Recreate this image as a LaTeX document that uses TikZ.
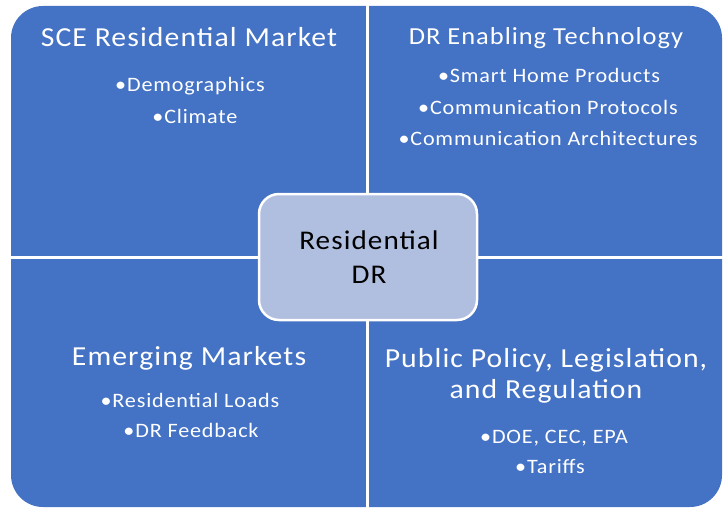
\documentclass[tikz,border=0pt]{standalone}
\usepackage{fontspec}
\setmainfont{Carlito}[FakeStretch=1.08,LetterSpace=4]
\begin{document}
\begin{tikzpicture}[x=1pt,y=-1pt,
  quad/.style={fill=qblue},
  title/.style={anchor=base,text=white,font=\fontsize{27.5}{31}\selectfont,align=center},
  item/.style={anchor=base,text=white,font=\fontsize{20.5}{24}\selectfont},
  hub/.style={draw=white,line width=2.5pt,fill=hubfill,rounded corners=20pt}]
\definecolor{qblue}{RGB}{68,114,196}
\definecolor{hubfill}{RGB}{176,190,224}
\useasboundingbox (0,0) rectangle (727,508);
% four quadrants: one rounded panel split by white gaps
\fill[quad,rounded corners=32pt] (11,6) rectangle (722,507);
\fill[white] (366,0) rectangle (369,508);
\fill[white] (0,256) rectangle (727,259);
% central hub
\draw[hub] (259,194) rectangle (477,320);
\node[anchor=base,font=\fontsize{27}{31}\selectfont] (hubA) at (369,249) {Residential};
\node[anchor=base,font=\fontsize{27}{31}\selectfont] (hubB) at (369,283) {DR};
% top left
\node[title] (tl) at (189,47) {SCE Residential Market};
\node[item] (tl1) at (190,92) {•Demographics};
\node[item] (tl2) at (195,123) {•Climate};
% top right
\node[title,font=\fontsize{24.5}{29}\selectfont] (tr) at (546,45) {DR Enabling Technology};
\node[item] (tr1) at (549,83) {•Smart Home Products};
\node[item] (tr2) at (548,114) {•Communication Protocols};
\node[item] (tr3) at (548,145) {•Communication Architectures};
% bottom left
\node[title] (bl) at (189,365) {Emerging Markets};
\node[item] (bl1) at (190,407) {•Residential Loads};
\node[item] (bl2) at (191,437) {•DR Feedback};
% bottom right
\node[title] (br1) at (546,367) {Public Policy, Legislation,};
\node[title] (br2) at (546,398) {and Regulation};
\node[item] (br3) at (554,443) {•DOE, CEC, EPA};
\node[item] (br4) at (550,473) {•Tariffs};
\end{tikzpicture}
\end{document}
